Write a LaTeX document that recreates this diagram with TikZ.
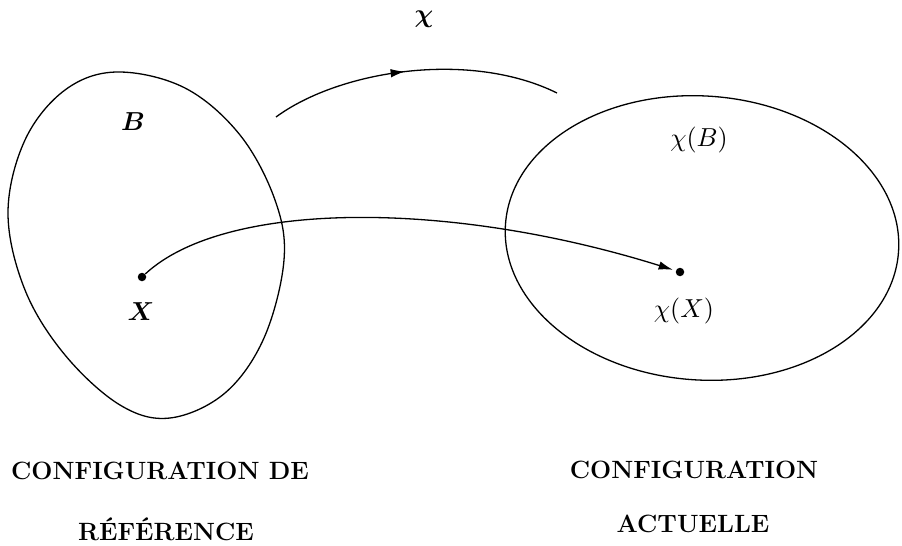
\documentclass[tikz,border=0pt]{standalone}
\usepackage{fontspec}
\usetikzlibrary{arrows.meta, positioning, decorations.markings}

\begin{document}
\begin{tikzpicture}[
  x=1pt, y=-1pt,
  caption/.style={font=\fontsize{25}{30}\selectfont\bfseries, anchor=base},
  mathlabel/.style={inner sep=0pt, scale=2.6},
  boldlabel/.style={mathlabel, font=\boldmath},
  pointdot/.style={circle, fill=black, inner sep=0pt, minimum size=8.5pt},
  region/.style={line width=1.3pt},
  arr/.style={-{Latex[length=5mm, width=3mm]}, line width=1.3pt},
  midarr/.style={line width=1.3pt, decoration={markings,
      mark=at position 0.47 with {\arrow{Latex[length=5mm, width=3mm]}}},
      postaction={decorate}}
]
  \useasboundingbox (0,0) rectangle (902,546);

  % reference and current configurations
  \draw[region] plot[smooth cycle, tension=0.6] coordinates {
    (117,72) (185,88) (240,135) (275,200) (284,260) (264,338)
    (225,393) (170,418) (120,405) (65,355) (25,290) (8,213)
    (25,140) (65,90)};
  \draw[region, rotate around={-4:(702,238)}]
    (702,238) ellipse [x radius=197, y radius=142];

  % labels
  \node[boldlabel] (B) at (133,122) {$B$};
  \node[mathlabel] (chiB) at (699,140) {$\chi(B)$};
  \node[boldlabel] (chi) at (424,19) {$\chi$};

  \node[pointdot] (P) at (142,277) {};
  \node[pointdot] (Q) at (680,272) {};
  \node[boldlabel] (X) at (141,312) {$X$};
  \node[mathlabel] (chiX) at (684,311) {$\chi(X)$};

  \coordinate (arcS) at (276,117);
  \coordinate (arcE) at (557,93);

  % mapping arrows
  \draw[midarr] (arcS) .. controls (340,70) and (470,50) .. (arcE);
  \draw[arr, shorten >=3pt] (P) .. controls (225,200) and (450,200) .. (Q);

  % captions
  \node[caption] (ref) at (160,479) {CONFIGURATION DE};
  \node[caption] (ref2) at (166,540) {RÉFÉRENCE};
  \node[caption] (act) at (694,478) {CONFIGURATION};
  \node[caption] (act2) at (693,532) {ACTUELLE};
\end{tikzpicture}
\end{document}
